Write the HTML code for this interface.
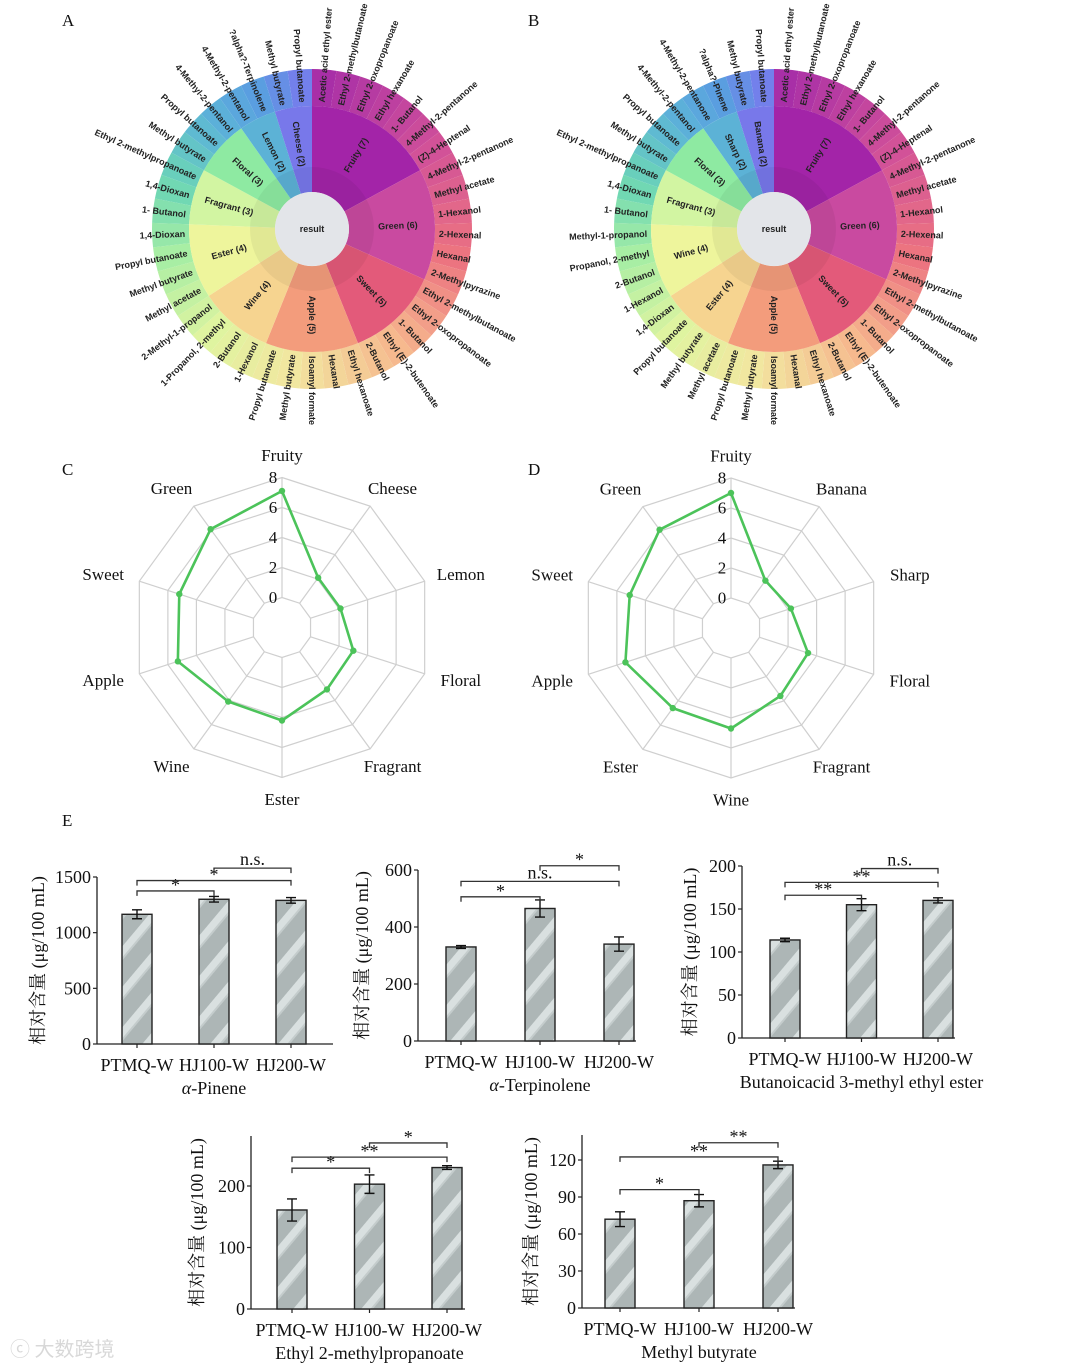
<!DOCTYPE html>
<html><head><meta charset="utf-8">
<style>
html,body{margin:0;padding:0;background:#fff;}
svg{display:block;}
.pl{font-family:"Liberation Serif",serif;font-size:17px;fill:#111;}
.sb{font-family:"Liberation Sans",sans-serif;font-weight:bold;font-size:9px;fill:#222;}
.rd{font-family:"Liberation Serif",serif;font-size:17px;fill:#111;}
.ax{font-family:"Liberation Serif","Noto Serif CJK SC",serif;font-size:18px;fill:#111;}
</style></head>
<body>
<svg id="fig" width="1080" height="1368" viewBox="0 0 1080 1368" xmlns="http://www.w3.org/2000/svg">
<defs>
<pattern id="hatch" width="26" height="26" patternUnits="userSpaceOnUse" patternTransform="rotate(-50)">
<rect width="26" height="26" fill="#adb6b6"/>
<rect x="0" y="0" width="26" height="7" fill="#d9e0e0"/>
<rect x="0" y="7" width="26" height="2" fill="#c4cccc"/>
</pattern>
</defs>
<text class="pl" x="62" y="26">A</text>
<text class="pl" x="528" y="26">B</text>
<text class="pl" x="62" y="475">C</text>
<text class="pl" x="528" y="475">D</text>
<text class="pl" x="62" y="826">E</text>
<text x="10" y="1356" font-family="'Noto Sans CJK SC',sans-serif" font-size="20" fill="#d8d8d8">ⓒ 大数跨境</text>
</svg>
<script>
// ---------- Sunburst data ----------
const sunA_categories = ["Fruity (7)","Green (6)","Sweet (5)","Apple (5)","Wine (4)","Ester (4)","Fragrant (3)","Floral (3)","Lemon (2)","Cheese (2)"];
const sunA_counts = [7,6,5,5,4,4,3,3,2,2];
const sunA_leaves = ["Acetic acid ethyl ester","Ethyl 2-methylbutanoate","Ethyl 2-oxopropanoate","Ethyl hexanoate","1- Butanol","4-Methyl-2-pentanone","(Z)-4-Heptenal",
"4-Methyl-2-pentanone","Methyl acetate","1-Hexanol","2-Hexenal","Hexanal","2-Methylpyrazine",
"Ethyl 2-methylbutanoate","Ethyl 2-oxopropanoate","1- Butanol","Ethyl (E)-2-butenoate","2-Butanol",
"Ethyl hexanoate","Hexanal","Isoamyl formate","Methyl butyrate","Propyl butanoate",
"1-Hexanol","2-Butanol","1-Propanol, 2-methyl","2-Methyl-1-propanol",
"Methyl acetate","Methyl butyrate","Propyl butanoate","1,4-Dioxan",
"1- Butanol","1,4-Dioxan","Ethyl 2-methylpropanoate",
"Methyl butyrate","Propyl butanoate","4-Methyl-2-pentanol",
"4-Methyl-2-pentanol","?alpha?-Terpinolene",
"Methyl butyrate","Propyl butanoate"];
const sunB_categories = ["Fruity (7)","Green (6)","Sweet (5)","Apple (5)","Ester (4)","Wine (4)","Fragrant (3)","Floral (3)","Sharp (2)","Banana (2)"];
const sunB_counts = [7,6,5,5,4,4,3,3,2,2];
const sunB_leaves = ["Acetic acid ethyl ester","Ethyl 2-methylbutanoate","Ethyl 2-oxopropanoate","Ethyl hexanoate","1- Butanol","4-Methyl-2-pentanone","(Z)-4-Heptenal",
"4-Methyl-2-pentanone","Methyl acetate","1-Hexanol","2-Hexenal","Hexanal","2-Methylpyrazine",
"Ethyl 2-methylbutanoate","Ethyl 2-oxopropanoate","1- Butanol","Ethyl (E)-2-butenoate","2-Butanol",
"Ethyl hexanoate","Hexanal","Isoamyl formate","Methyl butyrate","Propyl butanoate",
"Methyl acetate","Methyl butyrate","Propyl butanoate","1,4-Dioxan",
"1-Hexanol","2-Butanol","Propanol, 2-methyl","Methyl-1-propanol",
"1- Butanol","1,4-Dioxan","Ethyl 2-methylpropanoate",
"Methyl butyrate","Propyl butanoate","4-Methyl-2-pentanol",
"4-Methyl-2-pentanone","?alpha?-Pinene",
"Methyl butyrate","Propyl butanoate"];
const sunCatColors = ["#a324a8","#c94aa0","#e35a7a","#f39c7c","#f6d490","#eef59c","#d2f5a2","#8eeaa2","#5cb2d6","#7878ea"];
const sunLeafStops = [[0,"#a42ca8"],[0.15,"#d0509a"],[0.28,"#ec7480"],[0.40,"#f6b88e"],[0.52,"#f2e6a0"],[0.62,"#e0f4a0"],[0.72,"#a8eea4"],[0.80,"#6cd6b4"],[0.88,"#5cb4d8"],[0.94,"#5a9ee0"],[1,"#7a78ee"]];

// ---------- Radar data ----------
const radarC_labels = ["Fruity","Cheese","Lemon","Floral","Fragrant","Ester","Wine","Apple","Sweet","Green"];
const radarC_values = [7.1,2.1,2.1,3.0,3.1,4.2,4.1,5.3,5.2,6.1];
const radarD_labels = ["Fruity","Banana","Sharp","Floral","Fragrant","Wine","Ester","Apple","Sweet","Green"];
const radarD_values = [7.0,1.9,2.2,3.4,3.6,4.7,4.6,5.4,5.1,6.1];
const radarTicks = [0,2,4,6,8];

// ---------- Bar data ----------
const barCategories = ["PTMQ-W","HJ100-W","HJ200-W"];
const bar1_values = [1165,1300,1290];
const bar1_errors = [40,25,25];
const bar1_ticks = [0,500,1000,1500];
const bar1_sig = [[0,1,1375,"*"],[0,2,1468,"*"],[1,2,1580,"n.s."]];
const bar2_values = [330,465,340];
const bar2_errors = [5,30,25];
const bar2_ticks = [0,200,400,600];
const bar2_sig = [[0,1,506,"*"],[0,2,560,"n.s."],[1,2,615,"*"]];
const bar3_values = [114,155,160];
const bar3_errors = [2,7,3];
const bar3_ticks = [0,50,100,150,200];
const bar3_sig = [[0,1,166,"**"],[0,2,181,"**"],[1,2,197,"n.s."]];
const bar4_values = [161,203,230];
const bar4_errors = [18,15,3];
const bar4_ticks = [0,100,200];
const bar4_sig = [[0,1,229,"*"],[0,2,247,"**"],[1,2,270,"*"]];
const bar5_values = [72,87,116];
const bar5_errors = [6,5,3];
const bar5_ticks = [0,30,60,90,120];
const bar5_sig = [[0,1,96,"*"],[0,2,122.5,"**"],[1,2,134,"**"]];

const NS = "http://www.w3.org/2000/svg";
const fig = document.getElementById("fig");
function mk(tag, attrs, parent){
  const e = document.createElementNS(NS, tag);
  for (const k in attrs) e.setAttribute(k, attrs[k]);
  (parent||fig).appendChild(e);
  return e;
}
function hex2rgb(h){return [1,3,5].map(i=>parseInt(h.substr(i,2),16));}
function leafColor(t){
  for(let i=0;i<sunLeafStops.length-1;i++){
    const a=sunLeafStops[i], b=sunLeafStops[i+1];
    if(t>=a[0]&&t<=b[0]){
      const f=(t-a[0])/(b[0]-a[0]); const ca=hex2rgb(a[1]), cb=hex2rgb(b[1]);
      return "rgb("+ca.map((v,j)=>Math.round(v+(cb[j]-v)*f)).join(",")+")";
    }
  }
  return sunLeafStops[sunLeafStops.length-1][1];
}
function pt(cx,cy,r,a){const rad=a*Math.PI/180;return [cx+r*Math.sin(rad), cy-r*Math.cos(rad)];}
function arcPath(cx,cy,r0,r1,a0,a1){
  const p0=pt(cx,cy,r1,a0), p1=pt(cx,cy,r1,a1), p2=pt(cx,cy,r0,a1), p3=pt(cx,cy,r0,a0);
  const lg=(a1-a0)>180?1:0;
  return `M${p0[0]},${p0[1]} A${r1},${r1} 0 ${lg} 1 ${p1[0]},${p1[1]} L${p2[0]},${p2[1]} A${r0},${r0} 0 ${lg} 0 ${p3[0]},${p3[1]} Z`;
}
function radialText(g,cx,cy,r,a,txt,anchorMode,cls){
  const p=pt(cx,cy,r,a);
  let rot, anchor;
  if(a<=180){rot=a-90; anchor=anchorMode==="mid"?"middle":"start";}
  else {rot=a+90; anchor=anchorMode==="mid"?"middle":"end";}
  const t=mk("text",{x:p[0],y:p[1],transform:`rotate(${rot} ${p[0]} ${p[1]})`,"text-anchor":anchor,"dominant-baseline":"central",class:cls},g);
  t.textContent=txt;
  return t;
}
function drawSunburst(name,cx,cy,cats,counts,leaves){
  const g=mk("g",{});
  
  
  const total=counts.reduce((s,v)=>s+v,0);
  const step=360/total;
  leaves.forEach((lf,i)=>{
    const a0=i*step, a1=(i+1)*step;
    const p=mk("path",{d:arcPath(cx,cy,123,160,a0,a1),fill:leafColor((i+0.5)/total),stroke:"none"},g);
    
    
  });
  let start=0;
  cats.forEach((c,ci)=>{
    const a0=start*step, a1=(start+counts[ci])*step;
    const p=mk("path",{d:arcPath(cx,cy,37,123,a0,a1),fill:sunCatColors[ci]},g);
    
    
    start+=counts[ci];
  });
  mk("circle",{cx:cx,cy:cy,r:62,fill:"#000","fill-opacity":"0.05"},g);
  const c=mk("circle",{cx:cx,cy:cy,r:37,fill:"#e3e5e9"},g);
  
  
  const ct=mk("text",{x:cx,y:cy,"text-anchor":"middle","dominant-baseline":"central",class:"sb","font-weight":"normal"},g);
  ct.textContent="result";
  
  
  start=0;
  cats.forEach((cname,ci)=>{
    const am=(start+counts[ci]/2)*step;
    const t=radialText(g,cx,cy,86,am,cname,"mid","sb");
    
    
    start+=counts[ci];
  });
  leaves.forEach((lf,i)=>{
    const t=radialText(g,cx,cy,127,(i+0.5)*step,lf,"start","sb");
    
    
  });
}
drawSunburst("sunburst-a",312,229,sunA_categories,sunA_counts,sunA_leaves);
drawSunburst("sunburst-b",774,229,sunB_categories,sunB_counts,sunB_leaves);

// ---------- Radar ----------
function rScale(v){return 30+15*v;}
function drawRadar(name,cx,cy,labels,values){
  const g=mk("g",{});
  
  
  const n=labels.length;
  radarTicks.forEach(tk=>{
    const r=rScale(tk);
    const pts=labels.map((l,i)=>pt(cx,cy,r,i*360/n).join(",")).join(" ");
    const pg=mk("polygon",{points:pts,fill:"none",stroke:"#cfcfcf","stroke-width":1.2},g);
    
    
  });
  labels.forEach((l,i)=>{
    const a=i*360/n;
    const p0=pt(cx,cy,rScale(radarTicks[0]),a), p1=pt(cx,cy,rScale(radarTicks[radarTicks.length-1]),a);
    const ln=mk("line",{x1:p0[0],y1:p0[1],x2:p1[0],y2:p1[1],stroke:"#cfcfcf","stroke-width":1.2},g);
    
    
    const lx=cx+188*Math.sin(a*Math.PI/180), ly=cy-172*Math.cos(a*Math.PI/180);
    const t=mk("text",{x:lx,y:ly,"text-anchor":"middle","dominant-baseline":"central",class:"rd"},g);
    t.textContent=l;
    
    
  });
  radarTicks.forEach(tk=>{
    const t=mk("text",{x:cx-9,y:cy-rScale(tk),"text-anchor":"middle","dominant-baseline":"central",class:"rd"},g);
    t.textContent=tk;
    
    
  });
  const pts=values.map((v,i)=>pt(cx,cy,rScale(v),i*360/n));
  const poly=mk("polygon",{points:pts.map(p=>p.join(",")).join(" "),fill:"none",stroke:"#4cc35a","stroke-width":2.6,"stroke-linejoin":"round"},g);
  
  
  pts.forEach(p=>{
    const d=mk("circle",{cx:p[0],cy:p[1],r:3.2,fill:"#4cc35a"},g);
    
    
  });
}
drawRadar("radar-c",282,627.5,radarC_labels,radarC_values);
drawRadar("radar-d",731,628,radarD_labels,radarD_values);

// ---------- Bars ----------
function drawBars(name,geo,values,errors,ticks,sig,subtitle){
  const g=mk("g",{});
  
  
  const tMax=ticks[ticks.length-1];
  const k=(geo.y0-geo.yTop)/tMax;
  const Y=v=>geo.y0-v*k;
  const X=i=>geo.ax+geo.off+i*geo.step;
  const axTop=geo.axTop!==undefined?geo.axTop:geo.yTop;
  mk("line",{x1:geo.ax,y1:axTop,x2:geo.ax,y2:geo.y0,stroke:"#222","stroke-width":1.3},g);
  mk("line",{x1:geo.ax,y1:geo.y0,x2:geo.right,y2:geo.y0,stroke:"#222","stroke-width":1.3},g);
  ticks.forEach(tk=>{
    mk("line",{x1:geo.ax-4,y1:Y(tk),x2:geo.ax,y2:Y(tk),stroke:"#222","stroke-width":1.2},g);
    const t=mk("text",{x:geo.ax-6,y:Y(tk),"text-anchor":"end","dominant-baseline":"central",class:"ax"},g);
    t.textContent=tk;
    
    
  });
  values.forEach((v,i)=>{
    const cx=X(i);
    const r=mk("rect",{x:cx-geo.bw/2,y:Y(v),width:geo.bw,height:geo.y0-Y(v),fill:"url(#hatch)",stroke:"#222","stroke-width":1.4},g);
    
    
    const e=errors[i];
    const eg=mk("path",{d:`M${cx},${Y(v+e)}V${Y(v-e)}M${cx-5},${Y(v+e)}H${cx+5}M${cx-5},${Y(v-e)}H${cx+5}`,stroke:"#111","stroke-width":1.4,fill:"none"},g);
    
    
    mk("line",{x1:cx,y1:geo.y0,x2:cx,y2:geo.y0+4,stroke:"#222","stroke-width":1.2},g);
    const t=mk("text",{x:cx,y:geo.y0+21,"text-anchor":"middle","dominant-baseline":"central",class:"ax"},g);
    t.textContent=barCategories[i];
    
    
  });
  sig.forEach(s=>{
    const y=Y(s[2]);
    const p=mk("path",{d:`M${X(s[0])},${y+5}V${y}H${X(s[1])}V${y+5}`,stroke:"#333","stroke-width":1.3,fill:"none"},g);
    
    
    const t=mk("text",{x:(X(s[0])+X(s[1]))/2,y:y-(s[3]==="n.s."?3:0),"text-anchor":"middle",class:"ax","font-size":"13"},g);
    t.textContent=s[3];
    
    
  });
  const st=mk("text",{x:X(1),y:geo.y0+44,"text-anchor":"middle","dominant-baseline":"central",class:"ax"},g);
  st.innerHTML=subtitle;
  
  
  const ty=(axTop+geo.y0)/2, tx=geo.ax-geo.tOff;
  const yt=mk("text",{x:tx,y:ty,transform:`rotate(-90 ${tx} ${ty})`,"text-anchor":"middle","dominant-baseline":"central",class:"ax"},g);
  yt.textContent="相对含量 (μg/100 mL)";
  
  
}
drawBars("bar-chart-alpha-pinene",{ax:97,y0:1044,yTop:877,right:333,off:40,step:77,bw:30,tOff:59},bar1_values,bar1_errors,bar1_ticks,bar1_sig,'<tspan font-style="italic">α</tspan>-Pinene');
drawBars("bar-chart-alpha-terpinolene",{ax:418,y0:1041,yTop:870,right:636,off:43,step:79,bw:30,tOff:56},bar2_values,bar2_errors,bar2_ticks,bar2_sig,'<tspan font-style="italic">α</tspan>-Terpinolene');
drawBars("bar-chart-butanoic-acid",{ax:742,y0:1038,yTop:866,right:955,off:43,step:76.5,bw:30,tOff:52},bar3_values,bar3_errors,bar3_ticks,bar3_sig,'Butanoicacid 3-methyl ethyl ester');
drawBars("bar-chart-ethyl-2-methylpropanoate",{ax:251,y0:1309,yTop:1186,axTop:1136,right:465,off:41,step:77.5,bw:30,tOff:54},bar4_values,bar4_errors,bar4_ticks,bar4_sig,'Ethyl 2-methylpropanoate');
drawBars("bar-chart-methyl-butyrate",{ax:582,y0:1308,yTop:1160,axTop:1135,right:795,off:38,step:79,bw:30,tOff:51},bar5_values,bar5_errors,bar5_ticks,bar5_sig,'Methyl butyrate');
</script>
</body></html>
